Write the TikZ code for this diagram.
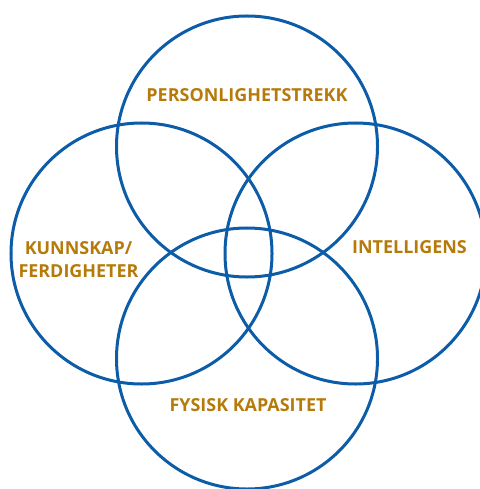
\documentclass[tikz,border=0pt]{standalone}
\usepackage{fontspec}
\setmainfont{Open Sans}
\definecolor{vennblue}{RGB}{12,92,168}
\definecolor{factorgold}{RGB}{181,122,10}

\begin{document}
\begin{tikzpicture}[x=1bp, y=-1bp,
    ring/.style={circle, draw=vennblue, line width=3bp,
        minimum size=261bp, inner sep=0pt},
    factor/.style={text=factorgold, font=\bfseries\fontsize{18}{23}\selectfont,
        align=center, inner sep=0pt}
]
\clip (0,0) rectangle (480,489);

% the four overlapping circles
\node[ring] (top)    at (247,146.5) {};
\node[ring] (left)   at (141.5,253.5) {};
\node[ring] (right)  at (355.5,253.5) {};
\node[ring] (bottom) at (247,358.5) {};

% one factor per circle
\node[factor] (pers)  at (247,95)    {PERSONLIGHETSTREKK};
\node[factor] (kunn)  at (78.5,259.5) {KUNNSKAP/\\FERDIGHETER};
\node[factor] (intel) at (409.5,247.5) {INTELLIGENS};
\node[factor] (fys)   at (248,405.5) {FYSISK KAPASITET};

\end{tikzpicture}
\end{document}
